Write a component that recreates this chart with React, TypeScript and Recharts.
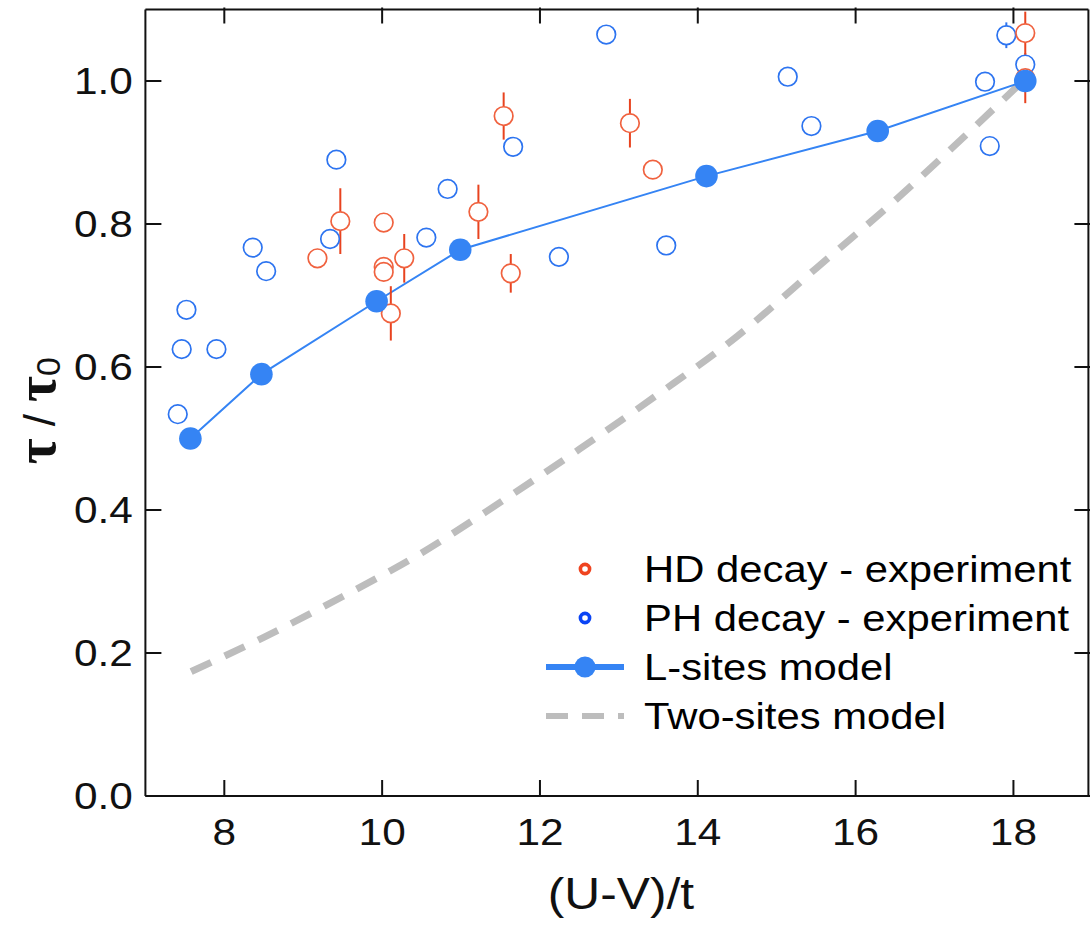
import React from 'react';
import {
  ComposedChart,
  Line,
  Scatter,
  ErrorBar,
  XAxis,
  YAxis,
  Legend,
} from 'recharts';

// values
const xTicks = [8, 10, 12, 14, 16, 18];
const yTicks = [0, 0.2, 0.4, 0.6, 0.8, 1.0];

const hdDecay = [
  { x: 9.18, y: 0.752, err: 0 },
  { x: 9.47, y: 0.804, err: 0.046 },
  { x: 10.02, y: 0.802, err: 0 },
  { x: 10.02, y: 0.74, err: 0 },
  { x: 10.02, y: 0.733, err: 0 },
  { x: 10.11, y: 0.675, err: 0.038 },
  { x: 10.28, y: 0.752, err: 0.034 },
  { x: 11.22, y: 0.817, err: 0.038 },
  { x: 11.54, y: 0.951, err: 0.033 },
  { x: 11.63, y: 0.731, err: 0.027 },
  { x: 13.14, y: 0.941, err: 0.034 },
  { x: 13.43, y: 0.876, err: 0 },
  { x: 18.15, y: 1.067, err: 0.03 },
  { x: 18.15, y: 1.004, err: 0.035 },
];

const phDecay = [
  { x: 7.41, y: 0.534, err: 0 },
  { x: 7.46, y: 0.625, err: 0 },
  { x: 7.52, y: 0.68, err: 0 },
  { x: 7.9, y: 0.625, err: 0 },
  { x: 8.36, y: 0.767, err: 0 },
  { x: 8.53, y: 0.734, err: 0 },
  { x: 9.34, y: 0.779, err: 0 },
  { x: 9.42, y: 0.89, err: 0 },
  { x: 10.56, y: 0.781, err: 0 },
  { x: 10.83, y: 0.849, err: 0 },
  { x: 11.66, y: 0.908, err: 0 },
  { x: 12.24, y: 0.754, err: 0 },
  { x: 12.84, y: 1.065, err: 0 },
  { x: 13.6, y: 0.77, err: 0 },
  { x: 15.14, y: 1.006, err: 0 },
  { x: 15.44, y: 0.937, err: 0 },
  { x: 17.64, y: 0.999, err: 0.012 },
  { x: 17.7, y: 0.909, err: 0 },
  { x: 17.91, y: 1.064, err: 0.018 },
  { x: 18.15, y: 1.023, err: 0 },
];

const lSitesModel = [
  { x: 7.57, y: 0.5 },
  { x: 8.47, y: 0.59 },
  { x: 9.93, y: 0.692 },
  { x: 10.99, y: 0.764 },
  { x: 14.11, y: 0.867 },
  { x: 16.28, y: 0.93 },
  { x: 18.15, y: 1.0 },
];

const twoSitesModel = [
  { x: 7.58, y: 0.174 },
  { x: 8.5, y: 0.222 },
  { x: 9.5, y: 0.279 },
  { x: 10.5, y: 0.34 },
  { x: 11.5, y: 0.411 },
  { x: 12.5, y: 0.485 },
  { x: 13.5, y: 0.562 },
  { x: 14.5, y: 0.643 },
  { x: 15.5, y: 0.738 },
  { x: 16.5, y: 0.833 },
  { x: 17.5, y: 0.935 },
  { x: 18.12, y: 1.0 },
];

const X_DOMAIN = [7, 18.95];
const Y_DOMAIN = [0, 1.1];

const FONT = '"Liberation Sans", Arial, Helvetica, sans-serif';
const INK = '#111';
const SX = 1.13; // the original lettering is a bit wide
const RED = '#f0623f';
const RED_BAR = '#e8431f';
const BLUE_OPEN = '#2d74f0';
const BLUE = '#3584f4';
const GREY = '#bdbdbd';

const legendItems = [
  { name: 'HD decay - experiment', kind: 'ring', color: '#ef4420' },
  { name: 'PH decay - experiment', kind: 'ring', color: '#0a44f5' },
  { name: 'L-sites model', kind: 'line', color: BLUE },
  { name: 'Two-sites model', kind: 'dash', color: GREY },
];

const BottomTick = ({ x, y, payload }: any) => (
  <g>
    <line x1={x} x2={x} y1={y} y2={y - 16} stroke={INK} strokeWidth={2} />
    <text
      transform={`translate(${x},${y + 49}) scale(${SX},1)`}
      textAnchor="middle"
      fontSize={37.5}
      fontFamily={FONT}
      fill={INK}
    >
      {payload.value}
    </text>
  </g>
);

const LeftTick = ({ x, y, payload }: any) => (
  <g>
    <line x1={x} x2={x + 16} y1={y} y2={y} stroke={INK} strokeWidth={2} />
    <text
      transform={`translate(${x - 12.5},${y + 13.4}) scale(${SX},1)`}
      textAnchor="end"
      fontSize={37.5}
      fontFamily={FONT}
      fill={INK}
    >
      {Number(payload.value).toFixed(1)}
    </text>
  </g>
);

const TopTick = ({ x, y }: any) => (
  <line x1={x} x2={x} y1={y} y2={y + 16} stroke={INK} strokeWidth={2} />
);

const RightTick = ({ x, y }: any) => (
  <line x1={x} x2={x - 16} y1={y} y2={y} stroke={INK} strokeWidth={2} />
);

const openCircle = (color: string) => (props: any) => (
  <circle cx={props.cx} cy={props.cy} r={9.3} fill="#fff" stroke={color} strokeWidth={1.7} />
);

const XLabel = (props: any) => {
  const vb = props.viewBox;
  return (
    <text
      transform={`translate(${vb.x + vb.width / 2 + 4},${vb.y + 113}) scale(${SX},1)`}
      textAnchor="middle"
      fontSize={44}
      fontFamily={FONT}
      fill={INK}
    >
      (U-V)/t
    </text>
  );
};

const YLabel = (props: any) => {
  const vb = props.viewBox;
  return (
    <text
      transform={`translate(55,${vb.y + vb.height / 2 + 8}) rotate(-90)`}
      textAnchor="middle"
      fontSize={56}
      fill={INK}
    >
      <tspan fontFamily='"Liberation Serif", serif' fontWeight="bold">τ</tspan>
      <tspan fontFamily={FONT} fontSize={44}> / </tspan>
      <tspan fontFamily='"Liberation Serif", serif' fontWeight="bold">τ</tspan>
      <tspan fontFamily={FONT} fontSize={34} dy={5}>0</tspan>
    </text>
  );
};

const renderLegend = () => (
  <svg width={550} height={200}>
    {legendItems.map((item, i) => {
      const cy = 24 + i * 49;
      return (
        <g key={item.name}>
          {item.kind === 'ring' && (
            <circle cx={45} cy={cy} r={4.6} fill="#fff" stroke={item.color} strokeWidth={3.6} />
          )}
          {item.kind === 'line' && (
            <g>
              <line x1={6} x2={84} y1={cy} y2={cy} stroke={item.color} strokeWidth={6} />
              <circle cx={45} cy={cy} r={10.5} fill={item.color} />
            </g>
          )}
          {item.kind === 'dash' && (
            <line
              x1={6}
              x2={84}
              y1={cy}
              y2={cy}
              stroke={item.color}
              strokeWidth={6}
              strokeDasharray="22 14"
            />
          )}
          <text
            transform={`translate(104,${cy + 13}) scale(${SX},1)`}
            fontSize={37}
            fontFamily={FONT}
            fill="#000"
          >
            {item.name}
          </text>
        </g>
      );
    })}
  </svg>
);

export default function App() {
  return (
    <div style={{ position: 'absolute', left: 0, top: 0, background: '#fff' }}>
      <ComposedChart
        width={1090}
        height={925}
        margin={{ top: 8.5, right: 0.6, bottom: 0, left: 0 }}
      >
        <XAxis
          type="number"
          dataKey="x"
          domain={X_DOMAIN}
          allowDataOverflow
          ticks={xTicks}
          height={129}
          tickSize={0}
          tickMargin={0}
          tick={BottomTick}
          axisLine={{ stroke: INK, strokeWidth: 2 }}
          label={(p: any) => <XLabel {...p} />}
        />
        {/* mirrored frame: top and right axes with inward ticks */}
        <XAxis
          xAxisId="top"
          orientation="top"
          type="number"
          dataKey="x"
          domain={X_DOMAIN}
          allowDataOverflow
          ticks={xTicks}
          height={1}
          tickSize={0}
          tick={TopTick}
          axisLine={{ stroke: INK, strokeWidth: 2 }}
        />
        <YAxis
          type="number"
          dataKey="y"
          domain={Y_DOMAIN}
          allowDataOverflow
          ticks={yTicks}
          width={145.4}
          tickSize={0}
          tickMargin={0}
          tick={LeftTick}
          axisLine={{ stroke: INK, strokeWidth: 2 }}
          label={(p: any) => <YLabel {...p} />}
        />
        <YAxis
          yAxisId="right"
          orientation="right"
          type="number"
          dataKey="y"
          domain={Y_DOMAIN}
          allowDataOverflow
          ticks={yTicks}
          width={1}
          tickSize={0}
          tick={RightTick}
          axisLine={{ stroke: INK, strokeWidth: 2 }}
        />
        {/* the two-sites curve sits on the mirrored top/right axes (same domains) */}
        <Line
          xAxisId="top"
          yAxisId="right"
          data={twoSitesModel}
          dataKey="y"
          type="monotone"
          stroke={GREY}
          strokeWidth={7}
          strokeDasharray="22 15"
          dot={false}
          isAnimationActive={false}
          legendType="none"
        />
        <Line
          data={lSitesModel}
          dataKey="y"
          type="linear"
          stroke={BLUE}
          strokeWidth={2}
          dot={{ r: 11.3, fill: BLUE, stroke: BLUE, strokeWidth: 0 }}
          isAnimationActive={false}
        />
        <Scatter data={phDecay} dataKey="y" shape={openCircle(BLUE_OPEN)} isAnimationActive={false}>
          <ErrorBar dataKey="err" direction="y" width={0} stroke={BLUE_OPEN} strokeWidth={2} />
        </Scatter>
        <Scatter data={hdDecay} dataKey="y" shape={openCircle(RED)} isAnimationActive={false}>
          <ErrorBar dataKey="err" direction="y" width={0} stroke={RED_BAR} strokeWidth={2} />
        </Scatter>
        <Legend
          layout="horizontal"
          verticalAlign="middle"
          align="center"
          wrapperStyle={{ left: 540, top: 545, width: 550, height: 200 }}
          content={renderLegend}
        />
      </ComposedChart>
    </div>
  );
}
